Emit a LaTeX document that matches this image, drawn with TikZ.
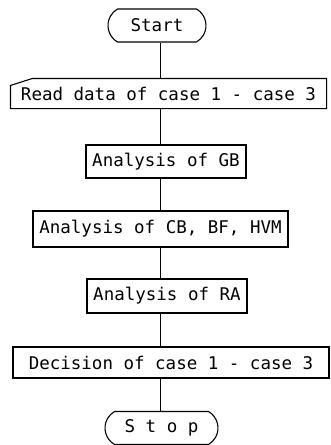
\documentclass[tikz,border=0pt]{standalone}
\usepackage{fontspec}
\newfontfamily\flowfont{DejaVu Sans Mono}
\usetikzlibrary{shapes.misc}

\begin{document}
\begin{tikzpicture}[x=1pt,y=-1pt,
    term/.style={draw,rounded rectangle,rounded rectangle arc length=120,
                 line width=1.1pt,minimum height=33pt,inner xsep=0pt,
                 font=\flowfont\fontsize{17.5}{20}\selectfont},
    proc/.style={draw,line width=1.1pt,inner sep=0pt,
                 font=\flowfont\fontsize{17.5}{20}\selectfont},
    link/.style={line width=0.9pt}]
    \useasboundingbox (0,0) rectangle (330,445);
    \node[term,minimum width=98pt] (start) at (157,25.5) {Start};
    \node[proc,draw=none,minimum width=315pt,minimum height=29pt] (read) at (168.5,93.5) {Read data of case 1 - case 3};
    \draw[line width=1.1pt] (read.south west) -- ([yshift=-7pt]read.north west)
      -- ([xshift=22pt]read.north west) -- (read.north east) -- (read.south east) -- cycle;
    \node[proc,minimum width=160pt,minimum height=33pt] (gb) at (166,161.5) {Analysis of GB};
    \node[proc,minimum width=255pt,minimum height=36pt] (cb) at (160.5,229) {Analysis of CB, BF, HVM};
    \node[proc,minimum width=160pt,minimum height=34pt] (ra) at (167,296) {Analysis of RA};
    \node[proc,minimum width=316pt,minimum height=31pt] (dec) at (171,362.5) {Decision of case 1 - case 3};
    \node[term,minimum width=113pt] (stop) at (161.5,428) {S t o p};
    \coordinate (spine) at (160,0);
    \foreach \a/\b in {start/read,read/gb,gb/cb,cb/ra,ra/dec,dec/stop}
      \draw[link] (spine |- \a.south) -- (spine |- \b.north);
  \end{tikzpicture}
\end{document}
